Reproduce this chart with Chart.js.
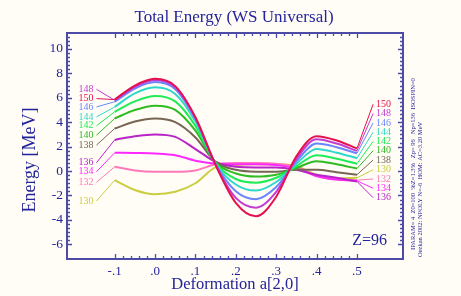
<!DOCTYPE html>
<html>
<head>
<meta charset="utf-8">
<script src="https://cdn.jsdelivr.net/npm/chart.js@4.4.0/dist/chart.umd.min.js"></script>
<style>
  html, body { margin: 0; padding: 0; background: #fffdf6; }
  #wrap { width: 461px; height: 296px; }
</style>
</head>
<body>
<div id="wrap"><canvas id="chart"></canvas></div>
<script>
// deformation grid a[2,0]
const deform = [-0.1, -0.05, 0, 0.05, 0.1, 0.15, 0.2, 0.25, 0.3, 0.35, 0.4, 0.45, 0.5];

// total energy [MeV] per neutron number
const e150 = [5.85, 7.0, 7.55, 6.95, 4.4, 0.5, -2.6, -3.7, -2.1, 1.2, 2.85, 2.5, 1.85];
const e148 = [5.8, 6.9, 7.45, 6.85, 4.35, 0.5, -2.2, -3.0, -1.7, 1.0, 2.6, 2.25, 1.65];
const e146 = [5.67, 6.75, 7.28, 6.7, 4.25, 0.55, -1.65, -2.3, -1.3, 0.8, 2.25, 1.95, 1.45];
const e144 = [5.25, 6.35, 6.85, 6.3, 4.05, 0.6, -1.1, -1.6, -0.9, 0.6, 1.8, 1.5, 1.05];
const e142 = [4.85, 5.7, 6.15, 5.7, 3.7, 0.65, -0.65, -0.95, -0.55, 0.4, 1.3, 1.0, 0.6];
const e140 = [4.3, 5.0, 5.35, 5.0, 3.3, 0.7, -0.2, -0.45, -0.3, 0.25, 0.8, 0.55, 0.2];
const e138 = [3.48, 4.05, 4.3, 4.0, 2.75, 0.75, 0.1, -0.05, -0.05, 0.1, 0.1, -0.1, -0.3];
const e136 = [2.55, 2.85, 3.0, 2.8, 1.8, 0.75, 0.35, 0.3, 0.3, 0.1, -0.3, -0.55, -0.85];
const e134 = [1.5, 1.48, 1.44, 1.3, 0.85, 0.6, 0.55, 0.55, 0.5, 0.2, -0.4, -0.7, -0.8];
const e132 = [0.35, 0.05, -0.05, -0.05, 0.05, 0.55, 0.65, 0.65, 0.6, 0.35, -0.4, -0.7, -0.75];
const e130 = [-0.75, -1.55, -1.9, -1.7, -1.0, 0.3, 0.5, 0.55, 0.55, 0.4, -0.3, -0.6, -0.55];

const neutrons = [150, 148, 146, 144, 142, 140, 138, 136, 134, 132, 130];
const energies = [e150, e148, e146, e144, e142, e140, e138, e136, e134, e132, e130];
const colors = ['#e6104f', '#c23cd2', '#6a86ff', '#2fd8c8', '#20ec58', '#30bb22',
                '#776655', '#b824c8', '#ff28ff', '#ff78b8', '#cccc40'];

// where the N labels sit (energy units), left and right of the curves
const leftTagY  = [5.93, 6.69, 5.25, 4.43, 3.7, 2.94, 2.12, 0.68, -0.06, -0.92, -2.45];
const rightTagY = [5.47, 4.71, 3.94, 3.18, 2.42, 1.66, 0.9, -2.18, -1.41, -0.65, 0.11];

const xTicks = [-0.1, 0, 0.1, 0.2, 0.3, 0.4, 0.5];
const yTicks = [-6, -4, -2, 0, 2, 4, 6, 8, 10];

const LEFT_TAG_X = -0.145;
const RIGHT_TAG_X = 0.54;
const ink = '#24249a';
const frameCol = '#4c4ca6';
const serif = "'Liberation Serif', 'DejaVu Serif', serif";

const datasets = [];
neutrons.forEach((n, i) => {
  datasets.push({
    label: 'N=' + n,
    data: deform.map((x, k) => ({ x: x, y: energies[i][k] })),
    borderColor: colors[i],
    borderWidth: 2,
    pointRadius: 0,
    cubicInterpolationMode: 'monotone',
    fill: false
  });
  // tie lines to the labels
  datasets.push({
    data: [{ x: LEFT_TAG_X, y: leftTagY[i] }, { x: deform[0], y: energies[i][0] }],
    borderColor: colors[i], borderWidth: 1, pointRadius: 0, tension: 0
  });
  datasets.push({
    data: [{ x: deform.at(-1), y: energies[i].at(-1) }, { x: RIGHT_TAG_X, y: rightTagY[i] }],
    borderColor: colors[i], borderWidth: 1, pointRadius: 0, tension: 0
  });
});

const framePlugin = {
  id: 'frame',
  afterDraw(chart) {
    const { ctx, chartArea: a, scales: { x, y } } = chart;
    ctx.save();
    ctx.strokeStyle = frameCol;
    ctx.lineWidth = 1.3;
    // inward ticks, x every .02, y every 1/3
    for (let k = -5; k <= 25; k++) {
      const v = k * 0.02;
      const px = Math.round(x.getPixelForValue(v)) + 0.5;
      const len = (k % 5 === 0) ? 5 : 3;
      ctx.beginPath();
      ctx.moveTo(px, a.top); ctx.lineTo(px, a.top + len);
      ctx.moveTo(px, a.bottom); ctx.lineTo(px, a.bottom - len);
      ctx.stroke();
    }
    for (let k = -18; k <= 33; k++) {
      const v = k / 3;
      const py = Math.round(y.getPixelForValue(v)) + 0.5;
      const len = (k % 6 === 0) ? 5 : 3;
      ctx.beginPath();
      ctx.moveTo(a.left, py); ctx.lineTo(a.left + len, py);
      ctx.moveTo(a.right, py); ctx.lineTo(a.right - len, py);
      ctx.stroke();
    }
    ctx.lineWidth = 2;
    ctx.strokeRect(a.left, a.top, a.right - a.left, a.bottom - a.top);

    // N labels
    ctx.font = '10px ' + serif;
    ctx.textBaseline = 'middle';
    neutrons.forEach((n, i) => {
      ctx.fillStyle = colors[i];
      ctx.textAlign = 'right';
      ctx.fillText(String(n), x.getPixelForValue(LEFT_TAG_X) - 3, y.getPixelForValue(leftTagY[i]));
      ctx.textAlign = 'left';
      ctx.fillText(String(n), x.getPixelForValue(RIGHT_TAG_X) + 3, y.getPixelForValue(rightTagY[i]));
    });

    ctx.fillStyle = ink;
    ctx.font = '16px ' + serif;
    ctx.textAlign = 'right';
    ctx.fillText('Z=96', a.right - 16, a.bottom - 18);

    // y axis title
    ctx.save();
    ctx.font = '18px ' + serif;
    ctx.textAlign = 'center';
    ctx.translate(30, 160);
    ctx.rotate(-Math.PI / 2);
    ctx.fillText('Energy [MeV]', 0, 0);
    ctx.restore();

    // run parameters, vertical
    ctx.font = '6.5px ' + serif;
    ctx.textAlign = 'left';
    ctx.save();
    ctx.translate(a.right + 10, a.bottom - 9);
    ctx.rotate(-Math.PI / 2);
    ctx.fillText('IPARAM= 4  Z0=100  %Z=1.3%   Zp= 96   Np=136  ISOSPIN=0', 0, 0);
    ctx.fillText('Oezkan 2002: NPOLY N=-6  HOM: AC=3.20 MeV', -7, 7);
    ctx.restore();
    ctx.restore();
  }
};

new Chart(document.getElementById('chart'), {
  type: 'line',
  data: { datasets: datasets },
  options: {
    responsive: true,
    maintainAspectRatio: false,
    animation: false,
    layout: { padding: { left: 7 } },
    plugins: {
      legend: { display: false },
      tooltip: { enabled: false },
      title: {
        display: true,
        text: 'Total Energy (WS Universal)',
        color: ink,
        font: { family: serif, size: 17, weight: 'normal' },
        padding: { top: 7, bottom: 5.6 }
      }
    },
    scales: {
      x: {
        type: 'linear',
        min: -0.218, max: 0.614,
        afterBuildTicks: ax => { ax.ticks = xTicks.map(v => ({ value: v })); },
        afterFit: ax => { ax.height = 37; },
        grid: { display: false, drawTicks: false },
        border: { display: false },
        ticks: {
          color: ink, padding: 5, maxRotation: 0,
          font: { family: serif, size: 13 },
          callback: v => (v < 0 ? '-' : '') + '.' + Math.round(Math.abs(v) * 10)
        },
        title: {
          display: true, text: 'Deformation a[2,0]', color: ink,
          font: { family: serif, size: 16.5 }, padding: { top: 0, bottom: 1 }
        }
      },
      y: {
        min: -7.2, max: 11.3,
        afterBuildTicks: ax => { ax.ticks = yTicks.map(v => ({ value: v })); },
        afterFit: ax => { ax.width = 60; },
        grid: { display: false, drawTicks: false },
        border: { display: false },
        ticks: { color: ink, padding: 4, font: { family: serif, size: 13.5 } }
      },
      y2: {
        position: 'right',
        min: 0, max: 1,
        afterFit: ax => { ax.width = 58; },
        grid: { display: false, drawTicks: false },
        border: { display: false },
        ticks: { display: false }
      }
    }
  },
  plugins: [framePlugin]
});
</script>
</body>
</html>
